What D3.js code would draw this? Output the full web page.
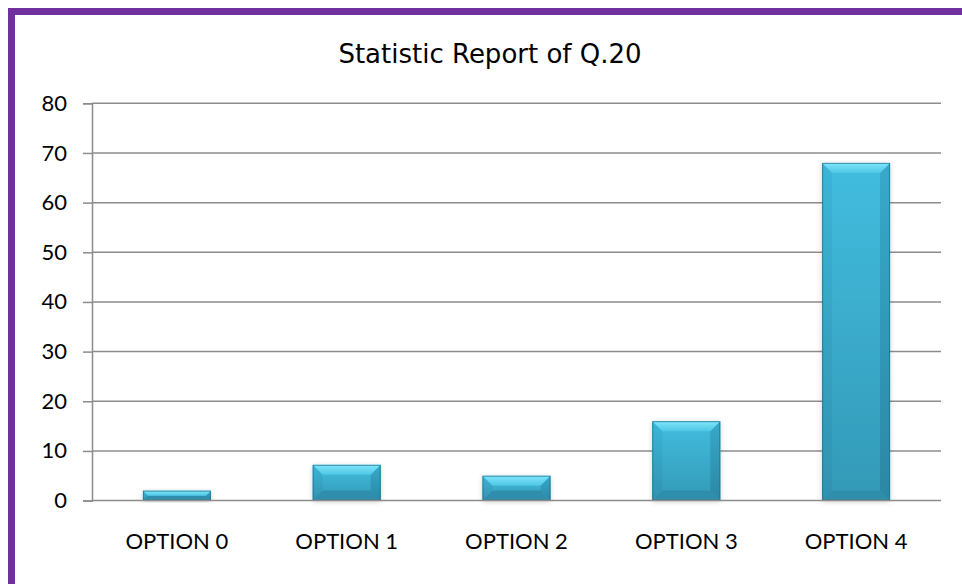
<!DOCTYPE html>
<html>
<head>
<meta charset="utf-8">
<script src="https://cdn.jsdelivr.net/npm/d3@7/dist/d3.min.js"></script>
<style>
  html, body { margin: 0; padding: 0; background: #fff; }
  svg { display: block; }
</style>
</head>
<body>
<svg id="chart" width="962" height="584"></svg>
<script>
// Survey answers for question 20
const categories = ["OPTION 0", "OPTION 1", "OPTION 2", "OPTION 3", "OPTION 4"];
const counts = [2, 7.2, 5, 16, 68];
const yTicks = [0, 10, 20, 30, 40, 50, 60, 70, 80];
const titleText = "Statistic Report of Q.20";

const W = 962, H = 584;
const margin = { left: 92, right: 21, top: 103.3, bottom: 83.4 };
const svg = d3.select("#chart");

// Frame: purple band along top and left edges
svg.append("rect").attr("x", 8).attr("y", 8).attr("width", W).attr("height", H)
  .attr("fill", "none").attr("stroke", "#7030A0").attr("stroke-width", 7)
  .attr("transform", "translate(3.5,3.5)");

const x = d3.scaleBand().domain(categories)
  .range([margin.left, W - margin.right]).paddingInner(0.6).paddingOuter(0.3);
const y = d3.scaleLinear().domain([0, 80]).range([H - margin.bottom, margin.top]);

// Gridlines
svg.append("g").selectAll("line").data(yTicks.filter(d => d > 0)).join("line")
  .attr("x1", margin.left).attr("x2", W - margin.right)
  .attr("y1", d => y(d)).attr("y2", d => y(d))
  .attr("stroke", "#8c8c8c").attr("stroke-width", 1.5);

// Y axis
const yAxis = svg.append("g").attr("transform", `translate(${margin.left},0)`)
  .call(d3.axisLeft(y).tickValues(yTicks).tickSize(9).tickPadding(16));
yAxis.select(".domain").attr("stroke", "#8c8c8c").attr("stroke-width", 1.5);
yAxis.selectAll(".tick line").attr("stroke", "#8c8c8c").attr("stroke-width", 1.5);
yAxis.selectAll("text").attr("font-family", "Lato, sans-serif").attr("font-size", 22)
  .attr("fill", "#000");

// Bar shading
const defs = svg.append("defs");
const face = defs.append("linearGradient").attr("id", "face")
  .attr("x1", 0).attr("y1", 0).attr("x2", 0).attr("y2", 1);
face.append("stop").attr("offset", "0%").attr("stop-color", "#42bddf");
face.append("stop").attr("offset", "100%").attr("stop-color", "#3399b7");
const topG = defs.append("linearGradient").attr("id", "bevelTop")
  .attr("x1", 0).attr("y1", 0).attr("x2", 0).attr("y2", 1);
topG.append("stop").attr("offset", "0%").attr("stop-color", "#7fe6fa");
topG.append("stop").attr("offset", "100%").attr("stop-color", "#4fc6e6");
const sideL = defs.append("linearGradient").attr("id", "bevelLeft")
  .attr("x1", 0).attr("y1", 0).attr("x2", 0).attr("y2", 1);
sideL.append("stop").attr("offset", "0%").attr("stop-color", "#3cb5d8");
sideL.append("stop").attr("offset", "100%").attr("stop-color", "#3192b0");
const sideR = defs.append("linearGradient").attr("id", "bevelRight")
  .attr("x1", 0).attr("y1", 0).attr("x2", 0).attr("y2", 1);
sideR.append("stop").attr("offset", "0%").attr("stop-color", "#37a9ca");
sideR.append("stop").attr("offset", "100%").attr("stop-color", "#2c87a4");
const shadow = defs.append("filter").attr("id", "shadow")
  .attr("x", "-20%").attr("y", "-20%").attr("width", "140%").attr("height", "140%");
shadow.append("feDropShadow").attr("dx", 0).attr("dy", 1).attr("stdDeviation", 2.5)
  .attr("flood-color", "#000").attr("flood-opacity", 0.2);

const bars = svg.append("g").selectAll("g").data(categories.map((c, i) => ({ c, v: counts[i] })))
  .join("g");

bars.each(function (d) {
  const g = d3.select(this);
  const x0 = x(d.c), w = x.bandwidth();
  const y0 = y(d.v), y1 = y(0), h = y1 - y0;
  const b = Math.min(10, h / 2, w / 2);
  const x1 = x0 + w;
  g.append("rect").attr("x", x0).attr("y", y0).attr("width", w).attr("height", h)
    .attr("fill", "url(#face)").attr("filter", "url(#shadow)");
  const poly = pts => g.append("polygon").attr("points", pts.map(p => p.join(",")).join(" "));
  poly([[x0, y0], [x0 + b, y0 + b], [x0 + b, y1 - b], [x0, y1]]).attr("fill", "url(#bevelLeft)");
  poly([[x1, y0], [x1, y1], [x1 - b, y1 - b], [x1 - b, y0 + b]]).attr("fill", "url(#bevelRight)");
  poly([[x0, y1], [x1, y1], [x1 - b, y1 - b], [x0 + b, y1 - b]]).attr("fill", "#2f8eab");
  poly([[x0, y0], [x1, y0], [x1 - b, y0 + b], [x0 + b, y0 + b]]).attr("fill", "url(#bevelTop)");
  // thin darker outline
  g.append("rect").attr("x", x0 + 0.5).attr("y", y0 + 0.5).attr("width", w - 1).attr("height", h - 1)
    .attr("fill", "none").attr("stroke", "#226f87").attr("stroke-width", 1).attr("stroke-opacity", 0.7);
});

// X axis
const xAxis = svg.append("g").attr("transform", `translate(0,${y(0)})`)
  .call(d3.axisBottom(x).tickSize(0).tickPadding(33));
xAxis.select(".domain").attr("stroke", "#8c8c8c").attr("stroke-width", 1.5)
  .attr("d", `M${margin.left},0H${W - margin.right}`);
xAxis.selectAll("text").attr("font-family", "Lato, sans-serif").attr("font-size", 22)
  .attr("fill", "#000");

// Title
svg.append("text").attr("x", 490).attr("y", 63).attr("text-anchor", "middle")
  .attr("font-family", "'Comic Sans MS', 'DejaVu Sans', sans-serif").attr("font-size", 26)
  .attr("fill", "#000").text(titleText);
</script>
</body>
</html>
